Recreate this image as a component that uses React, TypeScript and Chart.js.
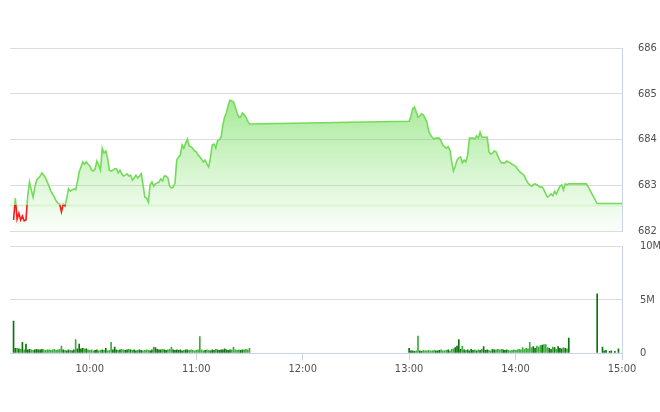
import React, { useEffect, useRef } from 'react';
import { Chart, registerables } from 'chart.js';

Chart.register(...registerables);

// ---- data ----
const axisStart = '09:15';
const axisEnd = '15:00';
const timeTickLabels = ['10:00', '11:00', '12:00', '13:00', '14:00', '15:00'];
const priceTickLabels = ['682', '683', '684', '685', '686'];
const volumeTickLabels = ['0', '5M', '10M'];
const volumeTickValues = [0, 5, 10];
const referencePrice = 682.56;

const morningStart = '09:17';
const morningPrices = [
  682.24, 682.72, 682.26, 682.39, 682.24, 682.33, 682.22, 682.24, 682.77, 683.07,
  682.90, 682.74, 682.96, 683.11, 683.16, 683.20, 683.27, 683.22, 683.16, 683.07,
  682.98, 682.87, 682.81, 682.74, 682.66, 682.61, 682.59, 682.42, 682.59, 682.55,
  682.72, 682.92, 682.87, 682.90, 682.92, 682.90, 683.07, 683.29, 683.40, 683.51,
  683.46, 683.51, 683.46, 683.42, 683.33, 683.31, 683.36, 683.53, 683.44, 683.33,
  683.81, 683.70, 683.75, 683.60, 683.33, 683.31, 683.33, 683.36, 683.36, 683.27,
  683.33, 683.25, 683.20, 683.22, 683.25, 683.20, 683.22, 683.11, 683.16, 683.22,
  683.16, 683.20, 683.25, 683.01, 682.74, 682.72, 682.63, 683.01, 683.07, 682.98,
  683.03, 683.05, 683.07, 683.14, 683.09, 683.20, 683.20, 683.16, 682.98, 682.94,
  682.96, 683.05, 683.55, 683.62, 683.66, 683.88, 683.81, 683.92, 684.01, 683.86,
  683.84, 683.81, 683.75, 683.73, 683.66, 683.62, 683.57, 683.51, 683.55, 683.46,
  683.40, 683.60, 683.88, 683.90, 683.81, 683.97, 683.99, 684.05, 684.32, 684.49,
  684.58, 684.75, 684.86, 684.84, 684.82, 684.71, 684.58, 684.49, 684.49, 684.58,
  684.54, 684.49, 684.40, 684.34,
];

const afternoonStart = '13:00';
const afternoonPrices = [
  684.40, 684.51, 684.67, 684.71, 684.60, 684.49, 684.51, 684.56, 684.54, 684.47,
  684.38, 684.19, 684.10, 684.05, 684.01, 684.03, 684.03, 684.03, 683.97, 683.88,
  683.84, 683.81, 683.84, 683.77, 683.51, 683.31, 683.42, 683.55, 683.60, 683.62,
  683.49, 683.55, 683.51, 683.66, 684.03, 684.03, 684.03, 684.01, 684.08, 684.03,
  684.16, 684.05, 684.05, 684.05, 684.05, 683.73, 683.68, 683.70, 683.75, 683.73,
  683.64, 683.55, 683.49, 683.49, 683.49, 683.53, 683.51, 683.49, 683.46, 683.44,
  683.42, 683.36, 683.31, 683.27, 683.25, 683.20, 683.11, 683.05, 683.01, 682.98,
  683.01, 683.03, 683.01, 682.98, 682.96, 682.96, 682.90, 682.81, 682.74, 682.77,
  682.81, 682.77, 682.87, 682.81, 682.90, 682.98, 683.01, 682.90, 683.03, 683.01,
  683.03,
];

const closingTimes = ['14:40', '14:46', '15:00'];
const closingPrices = [683.03, 682.6, 682.6];

// volumes in millions, one per minute
const morningVolumes = [
  3.0, 0.45, 0.45, 0.4, 0.35, 1.0, 0.3, 0.85, 0.3, 0.35,
  0.3, 0.25, 0.3, 0.35, 0.3, 0.3, 0.35, 0.3, 0.25, 0.3,
  0.3, 0.25, 0.3, 0.35, 0.25, 0.3, 0.35, 0.65, 0.3, 0.25,
  0.2, 0.3, 0.25, 0.2, 0.3, 1.25, 0.4, 0.85, 0.4, 0.45,
  0.4, 0.4, 0.3, 0.25, 0.3, 0.2, 0.25, 0.3, 0.2, 0.25,
  0.3, 0.25, 0.45, 0.2, 0.25, 1.0, 0.3, 0.55, 0.3, 0.25,
  0.3, 0.35, 0.3, 0.25, 0.3, 0.35, 0.3, 0.25, 0.3, 0.2,
  0.25, 0.3, 0.25, 0.2, 0.25, 0.3, 0.25, 0.2, 0.3, 0.55,
  0.5, 0.35, 0.3, 0.3, 0.35, 0.3, 0.25, 0.3, 0.35, 0.55,
  0.3, 0.25, 0.3, 0.25, 0.3, 0.2, 0.25, 0.3, 0.3, 0.25,
  0.3, 0.25, 0.2, 0.25, 0.3, 1.55, 0.3, 0.2, 0.25, 0.3,
  0.25, 0.2, 0.3, 0.25, 0.35, 0.3, 0.25, 0.3, 0.3, 0.4,
  0.3, 0.25, 0.3, 0.3, 0.55, 0.3, 0.25, 0.3, 0.25, 0.3,
  0.3, 0.35, 0.3, 0.45,
];

const afternoonVolumes = [
  0.45, 0.2, 0.2, 0.15, 0.2, 1.6, 0.2, 0.15, 0.25, 0.2,
  0.2, 0.25, 0.2, 0.2, 0.25, 0.2, 0.2, 0.25, 0.3, 0.2,
  0.2, 0.25, 0.3, 0.2, 0.35, 0.4, 0.5, 0.65, 1.25, 0.35,
  0.65, 0.3, 0.25, 0.3, 0.2, 0.35, 0.25, 0.3, 0.2, 0.3,
  0.25, 0.35, 0.6, 0.25, 0.3, 0.25, 0.2, 0.35, 0.3, 0.3,
  0.35, 0.3, 0.35, 0.3, 0.25, 0.3, 0.25, 0.2, 0.25, 0.3,
  0.25, 0.3, 0.35, 0.3, 0.5, 0.35, 0.45, 0.4, 1.0, 0.5,
  0.6, 0.45, 0.65, 0.55, 0.7, 0.75, 0.8, 0.8, 0.5, 0.45,
  0.35, 0.55, 0.5, 0.35, 0.6, 0.45, 0.4, 0.5, 0.45, 0.4,
  1.4,
];

const closingVolumeTimes = ['14:46', '14:49', '14:50', '14:51', '14:53', '14:54', '14:56', '14:58'];
const closingVolumes = [5.55, 0.55, 0.2, 0.25, 0.15, 0.2, 0.15, 0.4];

// ---- helpers ----
const toMin = (s: string) => {
  const [h, m] = s.split(':').map(Number);
  return (h - 9) * 60 + m;
};

const buildSeries = (start: string, values: number[]) =>
  values.map((v, i) => ({ x: toMin(start) + i, y: v }));

const pricePoints = [
  ...buildSeries(morningStart, morningPrices),
  ...buildSeries(afternoonStart, afternoonPrices),
  ...closingTimes.map((t, i) => ({ x: toMin(t), y: closingPrices[i] })),
];

const volumePoints = [
  ...buildSeries(morningStart, morningVolumes),
  ...buildSeries(afternoonStart, afternoonVolumes),
  ...closingVolumeTimes.map((t, i) => ({ x: toMin(t), y: closingVolumes[i] })),
];

const priceByMinute = new Map<number, number>();
pricePoints.forEach((p) => priceByMinute.set(p.x, p.y));

const FONT = '"Liberation Sans Narrow", "DejaVu Sans Condensed", Roboto, Arial, sans-serif';
const TEXT = '#505050';
const GRID = '#dcdcdc';
const AXIS = '#c8d5e6';
const LINE_GREEN = '#72dc58';
const LINE_RED = '#ff1a1a';
const NONE = 'rgba(0,0,0,0)';

export default function App() {
  const priceRef = useRef<HTMLCanvasElement>(null);
  const volRef = useRef<HTMLCanvasElement>(null);

  useEffect(() => {
    const xMin = toMin(axisStart);
    const xMax = toMin(axisEnd);

    const priceChart = new Chart(priceRef.current!, {
      type: 'line',
      data: {
        datasets: [
          {
            data: pricePoints,
            order: 0,
            borderWidth: 1.6,
            pointRadius: 0,
            tension: 0,
            fill: 'start',
            borderColor: (ctx: any) => {
              const chart = ctx.chart;
              const area = chart.chartArea;
              if (!area) return LINE_GREEN;
              const yRef = chart.scales.y.getPixelForValue(referencePrice);
              const f = Math.min(1, Math.max(0, (yRef - area.top) / (area.bottom - area.top)));
              const g = chart.ctx.createLinearGradient(0, area.top, 0, area.bottom);
              g.addColorStop(0, LINE_GREEN);
              g.addColorStop(f, LINE_GREEN);
              g.addColorStop(f, LINE_RED);
              g.addColorStop(1, LINE_RED);
              return g;
            },
            backgroundColor: (ctx: any) => {
              const chart = ctx.chart;
              const area = chart.chartArea;
              if (!area) return 'rgba(110,220,85,0.4)';
              const g = chart.ctx.createLinearGradient(0, area.top, 0, area.bottom);
              g.addColorStop(0, 'rgba(105,218,80,0.85)');
              g.addColorStop(0.5, 'rgba(110,220,85,0.42)');
              g.addColorStop(1, 'rgba(120,225,95,0.03)');
              return g;
            },
          },
          {
            data: [
              { x: xMin, y: referencePrice },
              { x: xMax, y: referencePrice },
            ],
            order: 1,
            borderColor: '#d8f5d0',
            borderWidth: 2,
            pointRadius: 0,
            fill: false,
          },
        ],
      },
      options: {
        animation: false,
        responsive: true,
        maintainAspectRatio: false,
        layout: { padding: { left: 10, top: 48, right: 0, bottom: 9 } },
        plugins: {
          legend: { display: false },
          tooltip: { enabled: false },
          filler: { drawTime: 'beforeDatasetsDraw' },
        } as any,
        scales: {
          x: { type: 'linear', min: xMin, max: xMax, display: false },
          y: {
            position: 'right',
            min: 682,
            max: 686,
            ticks: {
              stepSize: 1,
              padding: 0,
              color: TEXT,
              font: { family: FONT, size: 11 },
              callback: (v: any) => priceTickLabels[Math.round(Number(v) - 682)] ?? '',
            },
            grid: { color: GRID, drawTicks: true, tickLength: 16, tickColor: NONE },
            border: { display: true, color: AXIS },
            afterFit: (s: any) => {
              s.width = 38;
            },
          },
        },
      } as any,
    });

    const volumeChart = new Chart(volRef.current!, {
      type: 'bar',
      data: {
        datasets: [
          {
            data: volumePoints,
            barThickness: 1,
            backgroundColor: volumePoints.map((p) => {
              const cur = priceByMinute.get(p.x);
              const prev = priceByMinute.get(p.x - 1);
              if (cur !== undefined && prev !== undefined && cur < prev) return '#3aad3a';
              return '#0e720e';
            }),
          },
        ],
      },
      options: {
        animation: false,
        responsive: true,
        maintainAspectRatio: false,
        layout: { padding: { left: 10, top: 6, right: 0, bottom: 0 } },
        plugins: { legend: { display: false }, tooltip: { enabled: false } },
        scales: {
          x: {
            type: 'linear',
            min: xMin,
            max: xMax,
            offset: false,
            afterBuildTicks: (s: any) => {
              s.ticks = timeTickLabels.map((l) => ({ value: toMin(l) }));
            },
            ticks: {
              autoSkip: false,
              maxRotation: 0,
              padding: 3,
              color: TEXT,
              font: { family: FONT, size: 11 },
              callback: (v: any) => {
                const i = timeTickLabels.findIndex((l) => toMin(l) === Number(v));
                return i >= 0 ? timeTickLabels[i] : '';
              },
            },
            grid: { offset: false, drawOnChartArea: false, drawTicks: true, tickLength: 7, color: AXIS },
            border: { display: true, color: AXIS },
            afterFit: (s: any) => {
              s.height = 59;
            },
          },
          y: {
            position: 'right',
            min: 0,
            max: 10,
            afterBuildTicks: (s: any) => {
              s.ticks = volumeTickValues.map((v) => ({ value: v }));
            },
            ticks: {
              padding: 0,
              color: TEXT,
              font: { family: FONT, size: 11 },
              callback: (v: any) => volumeTickLabels[volumeTickValues.indexOf(Number(v))] ?? '',
            },
            grid: { color: GRID, drawTicks: true, tickLength: 18, tickColor: NONE },
            border: { display: true, color: AXIS },
            afterFit: (s: any) => {
              s.width = 38;
            },
          },
        },
      } as any,
    });

    return () => {
      priceChart.destroy();
      volumeChart.destroy();
    };
  }, []);

  return (
    <div style={{ position: 'fixed', left: 0, top: 0, width: 660, height: 412, background: '#fff' }}>
      <div style={{ position: 'absolute', left: 0, top: 0, width: 660, height: 240 }}>
        <canvas ref={priceRef} />
      </div>
      <div style={{ position: 'absolute', left: 0, top: 240, width: 660, height: 172 }}>
        <canvas ref={volRef} />
      </div>
    </div>
  );
}
